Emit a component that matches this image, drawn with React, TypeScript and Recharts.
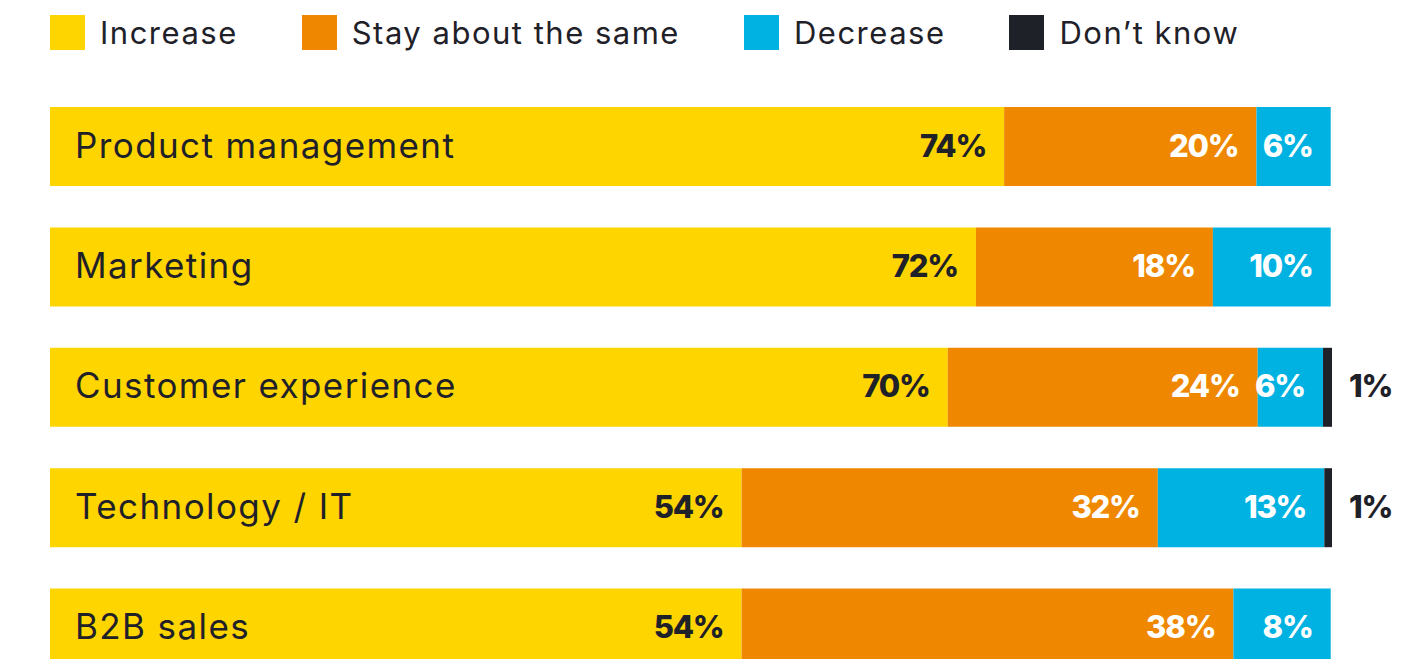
import { BarChart, Bar, XAxis, YAxis, LabelList } from "recharts";

const categories = [
  "Product management",
  "Marketing",
  "Customer experience",
  "Technology / IT",
  "B2B sales",
];

// bar lengths (share of the full row)
const increase = [74.5, 72.3, 70.1, 54.0, 54.0];
const stay = [19.7, 18.5, 24.2, 32.5, 38.4];
const decrease = [5.8, 9.2, 5.1, 13.0, 7.6];
const dontKnow = [0, 0, 0.7, 0.6, 0];

// printed labels
const increaseLabels = ["74%", "72%", "70%", "54%", "54%"];
const stayLabels = ["20%", "18%", "24%", "32%", "38%"];
const decreaseLabels = ["6%", "10%", "6%", "13%", "8%"];
const dontKnowLabels = ["", "", "1%", "1%", ""];

const series = [
  { key: "increase", name: "Increase", color: "#FFD500" },
  { key: "stay", name: "Stay about the same", color: "#EF8800" },
  { key: "decrease", name: "Decrease", color: "#00B2E2" },
  { key: "dontKnow", name: "Don\u2019t know", color: "#1F2129" },
];

const data = categories.map((name, i) => ({
  name,
  increase: increase[i],
  stay: stay[i],
  decrease: decrease[i],
  dontKnow: dontKnow[i],
  increaseLabel: increaseLabels[i],
  stayLabel: stayLabels[i],
  decreaseLabel: decreaseLabels[i],
  dontKnowLabel: dontKnowLabels[i],
}));

const DARK = "#1F2129";
const FONT = "Inter, 'Noto Sans', sans-serif";

const insideEnd = (fill: string) => (props: any) => {
  const { x, y, width, height, value } = props;
  if (!value) return null;
  return (
    <text
      x={x + width - 18}
      y={y + height / 2}
      dy={10}
      textAnchor="end"
      fill={fill}
      fontFamily={FONT}
      fontWeight={800}
      fontSize={31}
      letterSpacing={-1.2}
    >
      {value}
    </text>
  );
};

const outsideEnd = (props: any) => {
  const { x, y, width, height, value } = props;
  if (!value) return null;
  return (
    <text
      x={x + width + 17}
      y={y + height / 2}
      dy={10}
      textAnchor="start"
      fill={DARK}
      fontFamily={FONT}
      fontWeight={800}
      fontSize={31}
      letterSpacing={-1.2}
    >
      {value}
    </text>
  );
};

const nameLabel = (props: any) => {
  const { x, y, height, value } = props;
  return (
    <text
      x={x + 25}
      y={y + height / 2}
      dy={11}
      fill={DARK}
      fontFamily={FONT}
      fontSize={35}
      letterSpacing={1.4}
    >
      {value}
    </text>
  );
};

export default function App() {
  return (
    <div
      style={{
        position: "absolute",
        left: 0,
        top: 0,
        width: 1404,
        height: 700,
        background: "#fff",
        fontFamily: FONT,
      }}
    >
      <div
        style={{
          position: "absolute",
          left: 50,
          top: 15,
          display: "flex",
          alignItems: "center",
          gap: 64,
        }}
      >
        {series.map((s) => (
          <div key={s.key} style={{ display: "flex", alignItems: "center" }}>
            <div style={{ width: 35, height: 35, background: s.color }} />
            <span
              style={{
                marginLeft: 15,
                fontSize: 31,
                letterSpacing: 1.5,
                color: DARK,
                lineHeight: "35px",
              }}
            >
              {s.name}
            </span>
          </div>
        ))}
      </div>

      <BarChart
        width={1404}
        height={700}
        data={data}
        layout="vertical"
        margin={{ top: 86, right: 72, bottom: 12, left: 50 }}
        barSize={79}
      >
        <XAxis type="number" domain={[0, 100]} hide />
        <YAxis type="category" dataKey="name" hide />

        <Bar dataKey="increase" stackId="a" fill="#FFD500" isAnimationActive={false}>
          <LabelList dataKey="name" content={nameLabel} />
          <LabelList dataKey="increaseLabel" content={insideEnd(DARK)} />
        </Bar>
        <Bar dataKey="stay" stackId="a" fill="#EF8800" isAnimationActive={false}>
          <LabelList dataKey="stayLabel" content={insideEnd("#fff")} />
        </Bar>
        <Bar dataKey="decrease" stackId="a" fill="#00B2E2" isAnimationActive={false}>
          <LabelList dataKey="decreaseLabel" content={insideEnd("#fff")} />
        </Bar>
        <Bar dataKey="dontKnow" stackId="a" fill="#1F2129" isAnimationActive={false}>
          <LabelList dataKey="dontKnowLabel" content={outsideEnd} />
        </Bar>
      </BarChart>
    </div>
  );
}
